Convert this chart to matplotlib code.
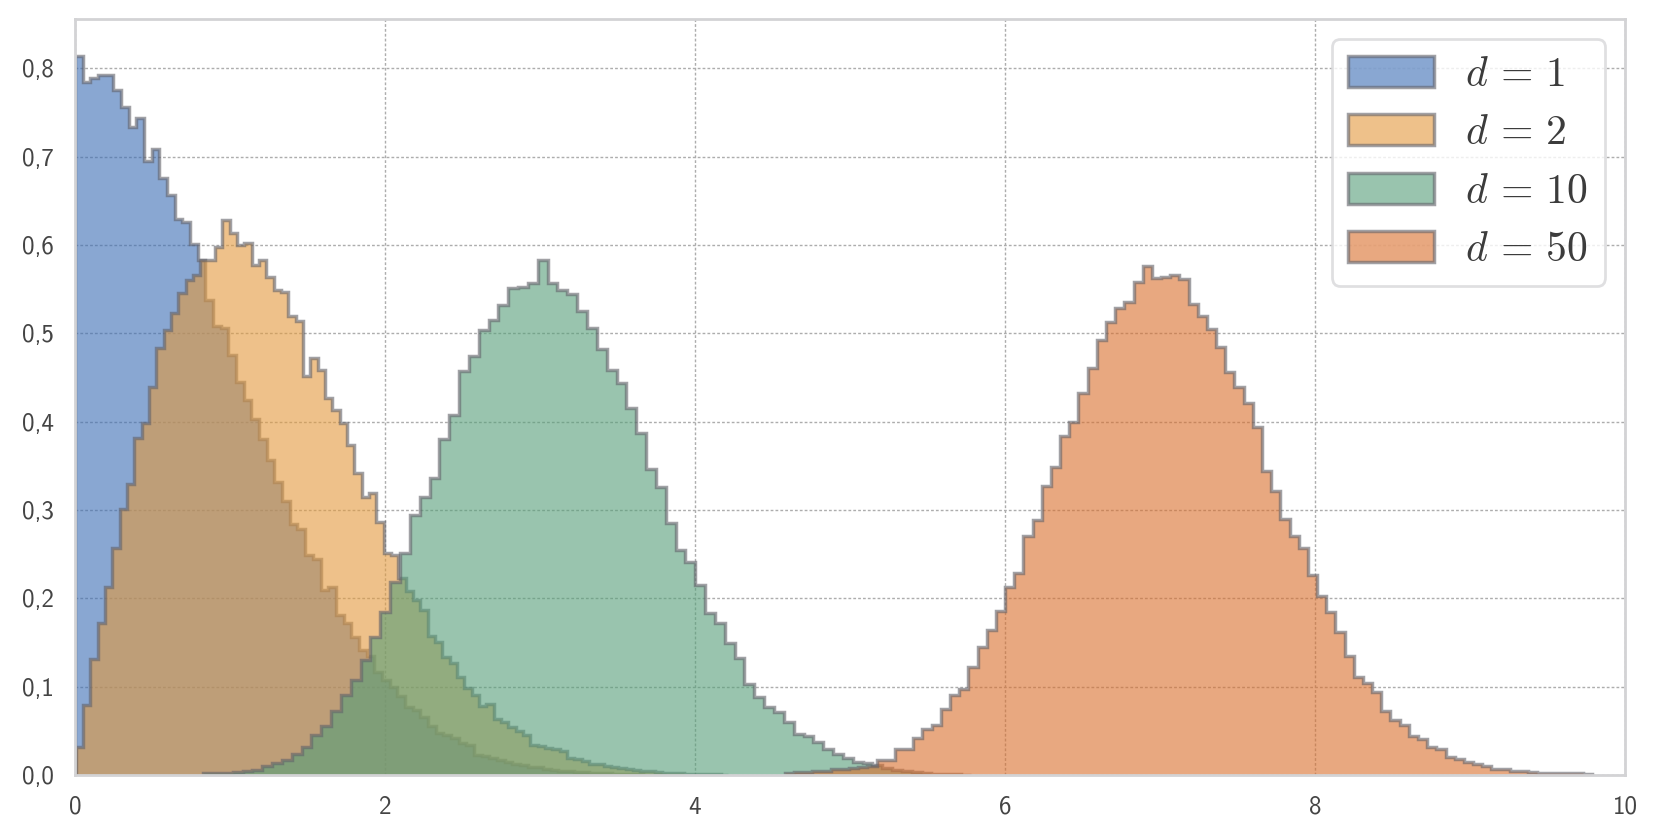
import numpy as np
import matplotlib
matplotlib.use("Agg")
import matplotlib.pyplot as plt
from matplotlib.ticker import FuncFormatter, MultipleLocator

# ---------------- data (density of each histogram bin) -------------
labels = [r"$d\,=\,1$", r"$d\,=\,2$", r"$d\,=\,10$", r"$d\,=\,50$"]

d1_start, d1_width = 0.0, 0.0495
d1_density = [
    0.814, 0.785, 0.789, 0.793, 0.793, 0.776, 0.756, 0.734, 0.744, 0.695,
    0.709, 0.676, 0.657, 0.629, 0.626, 0.601, 0.583, 0.538, 0.508, 0.506,
    0.476, 0.445, 0.425, 0.403, 0.380, 0.357, 0.332, 0.310, 0.284, 0.278,
    0.249, 0.245, 0.210, 0.213, 0.181, 0.172, 0.156, 0.142, 0.135, 0.117,
    0.108, 0.100, 0.089, 0.077, 0.074, 0.066, 0.055, 0.047, 0.045, 0.042,
    0.036, 0.034, 0.023, 0.022, 0.019, 0.017, 0.015, 0.013, 0.011, 0.0095,
    0.0085, 0.007, 0.006, 0.005, 0.0042, 0.0035, 0.003, 0.0025, 0.002, 0.0017,
    0.0014, 0.0011, 0.0009, 0.0007, 0.0005, 0.0004, 0.0003,
]

d2_start, d2_width = 0.005, 0.0473
d2_density = [
    0.032, 0.079, 0.131, 0.172, 0.2125, 0.257, 0.301, 0.329, 0.381, 0.399,
    0.439, 0.483, 0.504, 0.523, 0.5455, 0.561, 0.566, 0.583, 0.583, 0.598,
    0.6285, 0.614, 0.600, 0.602, 0.578, 0.583, 0.564, 0.549, 0.547, 0.520,
    0.514, 0.452, 0.472, 0.459, 0.427, 0.413, 0.399, 0.374, 0.342, 0.315,
    0.319, 0.287, 0.251, 0.249, 0.223, 0.208, 0.198, 0.187, 0.157, 0.151,
    0.134, 0.1265, 0.111, 0.098, 0.091, 0.078, 0.080, 0.063, 0.060, 0.054,
    0.050, 0.045, 0.034, 0.033, 0.030, 0.029, 0.027, 0.019, 0.018, 0.016,
    0.013, 0.012, 0.010, 0.0087, 0.0076, 0.0065, 0.0056, 0.0047, 0.004, 0.0033,
    0.0027, 0.0022, 0.0018, 0.0015, 0.0012, 0.001, 0.0008, 0.0006, 0.0005,
]

d10_start, d10_width = 0.8268, 0.0635
d10_density = [
    0.002, 0.0025, 0.0025, 0.0034, 0.004, 0.006, 0.010, 0.0135, 0.017, 0.0234,
    0.032, 0.045, 0.0555, 0.0725, 0.0906, 0.1076, 0.130, 0.1567, 0.185, 0.219,
    0.251, 0.2944, 0.3152, 0.336, 0.3805, 0.4077, 0.4575, 0.4745, 0.504, 0.5153,
    0.532, 0.551, 0.553, 0.5568, 0.5832, 0.5568, 0.549, 0.5447, 0.5258, 0.5059,
    0.482, 0.458, 0.4436, 0.416, 0.387, 0.3462, 0.3265, 0.2857, 0.2548, 0.2416,
    0.2152, 0.1838, 0.1718, 0.149, 0.1329, 0.103, 0.088, 0.0774, 0.071, 0.0604,
    0.0464, 0.0445, 0.0377, 0.0294, 0.0234, 0.0196, 0.0151, 0.014, 0.011, 0.008,
    0.006, 0.0045, 0.003, 0.002, 0.0015, 0.001, 0.0007, 0.0005,
]

d50_start, d50_width = 4.5798, 0.0592
d50_density = [
    0.002, 0.003, 0.003, 0.0045, 0.005, 0.0064, 0.007, 0.008, 0.009, 0.0105,
    0.017, 0.017, 0.029, 0.029, 0.0415, 0.0517, 0.0566, 0.0744, 0.0906, 0.097,
    0.1227, 0.1453, 0.1642, 0.1857, 0.2133, 0.2284, 0.2707, 0.2888, 0.3273, 0.3492,
    0.3839, 0.4001, 0.433, 0.4606, 0.4926, 0.5134, 0.5293, 0.536, 0.5587, 0.5764,
    0.5625, 0.5636, 0.5659, 0.5613, 0.533, 0.5198, 0.5047, 0.4843, 0.4568, 0.4398,
    0.4217, 0.3945, 0.3443, 0.322, 0.2895, 0.2707, 0.2567, 0.2265, 0.2027, 0.185,
    0.1623, 0.1348, 0.1113, 0.1038, 0.0944, 0.0725, 0.0623, 0.0566, 0.0445, 0.0408,
    0.032, 0.0294, 0.0207, 0.0181, 0.0147, 0.0121, 0.0102, 0.0068, 0.0068, 0.005,
    0.0042, 0.0034, 0.0026, 0.0025, 0.0023, 0.002, 0.0018, 0.0015,
]

x_ticks = [0, 2, 4, 6, 8, 10]

# ---------------- style ----------------
plt.rcParams["font.family"] = ["cmss10", "DejaVu Sans"]
plt.rcParams["mathtext.fontset"] = "cm"
plt.rcParams["axes.unicode_minus"] = False

fill_colors = ["#3A6CB4", "#E3993C", "#559E78", "#D96E2B"]
edge_color = "#62626A"
fill_alpha = 0.6

fig = plt.figure(figsize=(16.59, 8.40), dpi=100)
ax = fig.add_axes([0.0452, 0.0774, 0.9343, 0.900])

series = [
    (d1_start, d1_width, d1_density),
    (d2_start, d2_width, d2_density),
    (d10_start, d10_width, d10_density),
    (d50_start, d50_width, d50_density),
]
for (start, width, dens), col, lab in zip(series, fill_colors, labels):
    vals = np.asarray(dens, dtype=float)
    edges = start + width * np.arange(len(vals) + 1)
    ax.stairs(vals, edges, fill=True, facecolor=col, edgecolor=edge_color,
              linewidth=2.5, alpha=fill_alpha, label=lab)

ax.set_xlim(0, 10)
ax.set_ylim(0, 0.856)
ax.set_xticks(x_ticks)
ax.yaxis.set_major_locator(MultipleLocator(0.1))
ax.xaxis.set_major_formatter(FuncFormatter(lambda v, p: f"{v:.0f}"))
ax.yaxis.set_major_formatter(FuncFormatter(lambda v, p: f"{v:.1f}".replace(".", ",")))

ax.set_axisbelow(True)
ax.grid(True, color="#ADADAD", linestyle=(0, (2, 1.5)), linewidth=1.0)
ax.tick_params(length=0, pad=15, labelsize=18, labelcolor="#444444")
for sp in ax.spines.values():
    sp.set_color("#D3D3D5")
    sp.set_linewidth(2.0)

leg = ax.legend(loc="upper right", fontsize=30, handlelength=2.06, handleheight=0.77,
                handletextpad=0.75, labelspacing=0.49, borderpad=0.4,
                borderaxespad=0.48, framealpha=0.8, edgecolor="#D8D8DA", fancybox=True)
leg.get_frame().set_linewidth(2.0)
for t in leg.get_texts():
    t.set_color("#3C3C3C")

fig.savefig("out.png", dpi=100)
